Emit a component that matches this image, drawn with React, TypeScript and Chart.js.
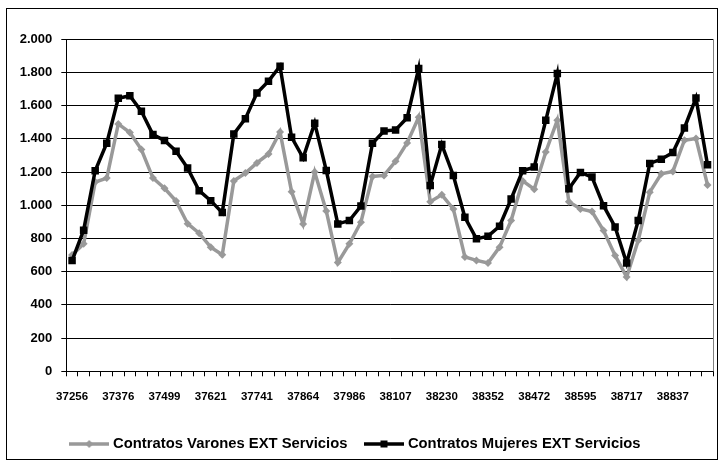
import { useEffect, useRef } from 'react';
import { Chart, registerables } from 'chart.js';

Chart.register(...registerables);

const categories = [
  '37256', '37287', '37315', '37346', '37376', '37407', '37437', '37468', '37499', '37529', '37560', '37590',
  '37621', '37652', '37680', '37711', '37741', '37772', '37802', '37833', '37864', '37894', '37925', '37955',
  '37986', '38017', '38046', '38077', '38107', '38138', '38168', '38199', '38230', '38260', '38291', '38321',
  '38352', '38383', '38411', '38442', '38472', '38503', '38533', '38564', '38595', '38625', '38656', '38686',
  '38717', '38748', '38776', '38807', '38837', '38868', '38898', '38929',
];

const shownTickLabels = [
  '37256', '37376', '37499', '37621', '37741', '37864', '37986',
  '38107', '38230', '38352', '38472', '38595', '38717', '38837',
];

const varones = [
  700, 768, 1140, 1164, 1490, 1438, 1336, 1164, 1103, 1026,
  889, 832, 748, 702, 1147, 1194, 1255, 1309, 1442, 1082,
  888, 1200, 966, 655, 768, 898, 1174, 1180, 1265, 1376,
  1530, 1022, 1063, 978, 689, 668, 652, 748, 908, 1147,
  1097, 1321, 1513, 1022, 978, 962, 848, 698, 568, 788,
  1079, 1190, 1204, 1392, 1402, 1123,
];

const mujeres = [
  667, 850, 1208, 1374, 1645, 1660, 1566, 1426, 1390, 1326,
  1224, 1088, 1028, 956, 1430, 1522, 1676, 1748, 1838, 1410,
  1286, 1495, 1210, 888, 908, 996, 1374, 1448, 1454, 1527,
  1824, 1120, 1366, 1180, 928, 798, 814, 874, 1038, 1208,
  1230, 1512, 1794, 1100, 1198, 1170, 998, 870, 652, 908,
  1252, 1278, 1318, 1466, 1646, 1244,
];

const seriesNames = ['Contratos Varones EXT Servicios', 'Contratos Mujeres EXT Servicios'];

const GRAY = '#999999';
const BLACK = '#000000';
const FONT = '"Liberation Sans", Arial, sans-serif';

function formatThousands(v: number): string {
  if (v >= 1000) {
    const th = Math.floor(v / 1000);
    const rest = String(v % 1000).padStart(3, '0');
    return th + '.' + rest;
  }
  return String(v);
}

function makeLegendImage(color: string, marker: 'diamond' | 'square'): HTMLCanvasElement {
  const c = document.createElement('canvas');
  c.width = 40;
  c.height = 12;
  const ctx = c.getContext('2d')!;
  ctx.strokeStyle = color;
  ctx.lineWidth = 3.5;
  ctx.beginPath();
  ctx.moveTo(0, 6);
  ctx.lineTo(40, 6);
  ctx.stroke();
  ctx.fillStyle = color;
  if (marker === 'square') {
    ctx.fillRect(16.5, 2.5, 7, 7);
  } else {
    ctx.beginPath();
    ctx.moveTo(20, 2);
    ctx.lineTo(24, 6);
    ctx.lineTo(20, 10);
    ctx.lineTo(16, 6);
    ctx.closePath();
    ctx.fill();
  }
  return c;
}

const framePlugin = {
  id: 'frame',
  beforeDraw(chart: any) {
    const ctx = chart.ctx;
    ctx.save();
    ctx.fillStyle = '#ffffff';
    ctx.fillRect(0, 0, chart.width, chart.height);
    ctx.restore();
  },
  afterDraw(chart: any) {
    const ctx = chart.ctx;
    const a = chart.chartArea;
    ctx.save();
    ctx.strokeStyle = '#000000';
    ctx.lineWidth = 1;
    ctx.strokeRect(6.5, 8.5, 711, 451);
    ctx.strokeStyle = '#808080';
    ctx.beginPath();
    ctx.moveTo(Math.round(a.right) + 0.5, a.top);
    ctx.lineTo(Math.round(a.right) + 0.5, a.bottom);
    ctx.stroke();
    ctx.restore();
  },
};

export default function App() {
  const ref = useRef<HTMLCanvasElement | null>(null);

  useEffect(() => {
    if (!ref.current) return;
    const imgs = [makeLegendImage(GRAY, 'diamond'), makeLegendImage(BLACK, 'square')];
    const chart = new Chart(ref.current, {
      type: 'line',
      data: {
        labels: categories,
        datasets: [
          {
            label: seriesNames[0],
            data: varones,
            borderColor: GRAY,
            backgroundColor: GRAY,
            borderWidth: 3.5,
            pointStyle: 'rectRot',
            pointRadius: 4,
            pointBorderWidth: 0,
            pointBackgroundColor: GRAY,
            tension: 0,
            order: 1,
          },
          {
            label: seriesNames[1],
            data: mujeres,
            borderColor: BLACK,
            backgroundColor: BLACK,
            borderWidth: 3.5,
            pointStyle: 'rect',
            pointRadius: 5.3,
            pointBorderWidth: 0,
            pointBackgroundColor: BLACK,
            tension: 0,
            order: 0,
          },
        ],
      },
      options: {
        animation: false,
        responsive: false,
        devicePixelRatio: 1,
        layout: { padding: { left: 0, top: 39.3, right: 9.7, bottom: 2.6 } },
        plugins: {
          tooltip: { enabled: false },
          legend: {
            display: true,
            position: 'bottom',
            labels: {
              usePointStyle: true,
              pointStyleWidth: 33,
              padding: 20,
              color: '#000',
              font: { family: FONT, size: 14.8, weight: 'bold' },
              sort: (a: any, b: any) => a.datasetIndex - b.datasetIndex,
              generateLabels: (ch: any) => {
                const items = Chart.defaults.plugins.legend.labels.generateLabels(ch);
                return items.map((it: any) => ({ ...it, pointStyle: imgs[it.datasetIndex] }));
              },
            },
          },
        },
        scales: {
          x: {
            type: 'category',
            offset: true,
            grid: {
              display: true,
              offset: true,
              drawOnChartArea: false,
              drawTicks: true,
              tickLength: 5,
              tickColor: '#000',
              tickWidth: 1,
              color: '#000',
            },
            border: { display: true, color: '#000', width: 1 },
            ticks: {
              autoSkip: false,
              maxRotation: 0,
              minRotation: 0,
              padding: 14,
              color: '#000',
              font: { family: FONT, size: 11.5, weight: 'bold' },
              callback: function (this: any, value: any) {
                const lab = this.getLabelForValue(value);
                return shownTickLabels.includes(lab) ? lab : '';
              },
            },
            afterFit: (scale: any) => {
              scale.height = 45.3;
            },
          },
          y: {
            min: 0,
            max: 2000,
            grid: {
              color: '#000',
              drawTicks: true,
              tickLength: 5,
            },
            border: { display: true, color: '#000', width: 1 },
            ticks: {
              stepSize: 200,
              padding: 9,
              color: '#000',
              font: { family: FONT, size: 13, weight: 'bold' },
              callback: (v: any) => formatThousands(Number(v)),
            },
            afterFit: (scale: any) => {
              scale.width = 66.3;
            },
          },
        },
      },
      plugins: [framePlugin],
    });
    return () => chart.destroy();
  }, []);

  return (
    <div style={{ position: 'fixed', left: 0, top: 0, width: 723, height: 464, background: '#fff' }}>
      <canvas ref={ref} width={723} height={464} style={{ display: 'block', width: 723, height: 464 }} />
    </div>
  );
}
